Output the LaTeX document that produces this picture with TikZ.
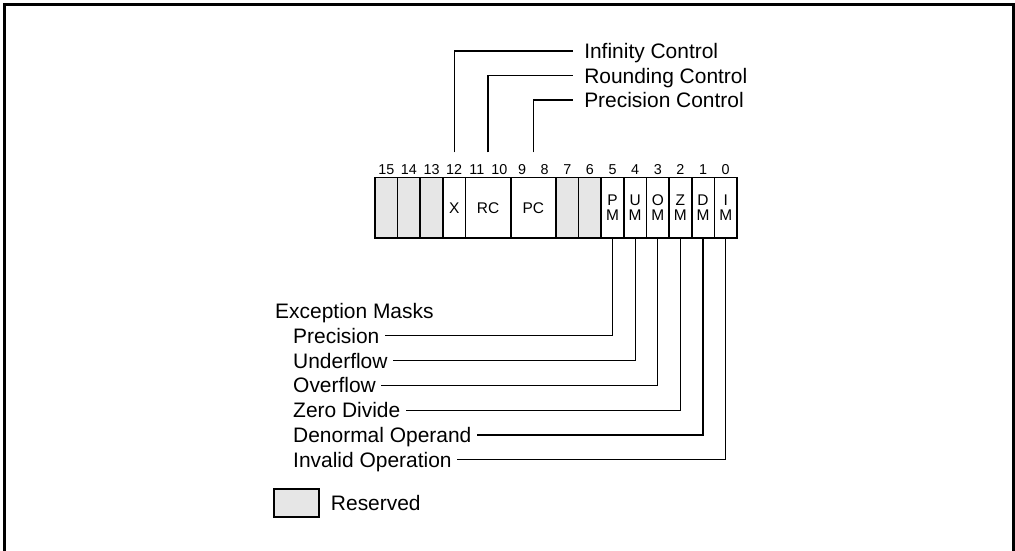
\documentclass[tikz,border=0pt]{standalone}
\usepackage{fontspec}
\setmainfont{Liberation Sans}
\usetikzlibrary{positioning}
\definecolor{rsvdgray}{HTML}{E6E6E6}

\tikzset{
  cell/.style={draw,line width=1.1pt,minimum width=0.5656cm,
    minimum height=1.515cm,inner sep=0pt,align=center,
    font=\fontsize{11}{10.5}\selectfont},
  twobit/.style={cell,minimum width=1.1313cm},
  resv/.style={cell,fill=rsvdgray},
  bitno/.style={inner sep=0pt,text height=7.3pt,text depth=0pt,
    font=\fontsize{10.2}{12}\selectfont},
  lbl/.style={anchor=west,inner xsep=3.5pt,inner ysep=0pt,
    text height=10.7pt,text depth=0pt,font=\fontsize{14.9}{18}\selectfont},
  ctl/.style={lbl,inner xsep=7.8pt},
  lead/.style={line width=0.9pt},
}

\begin{document}
\begin{tikzpicture}[x=0.025cm,y=-0.025cm]
  \useasboundingbox (0,0) rectangle (1015,551);
  \draw[line width=1.5pt] (4.5,560) -- (4.5,4.5) -- (1013.5,4.5) -- (1013.5,560);

  % register fields
  \foreach \i in {15,14,13,7,6}
    \node[resv] (r\i) at ({375+(15.5-\i)*22.625},207.8) {};
  \node[cell] (xf) at ({375+3.5*22.625},207.8) {X};
  \node[twobit] (rc) at ({375+5*22.625},207.8) {RC};
  \node[twobit] (pc) at ({375+7*22.625},207.8) {PC};
  \foreach \i/\t/\n in {5/P/pm,4/U/um,3/O/om,2/Z/zm,1/D/dm,0/I/im}
    \node[cell] (\n) at ({375+(15.5-\i)*22.625},207.8) {\t\\M};
  \foreach \i in {0,...,15}
    \node[bitno] (n\i) at ({375+(15.5-\i)*22.625},169.5) {\i};

  % control fields
  \node[ctl] (inf) at (573,51) {Infinity Control};
  \node[ctl] (rnd) at (573,75.5) {Rounding Control};
  \node[ctl] (prc) at (573,100) {Precision Control};
  \draw[lead] ([yshift=0.61cm]xf.north) |- (inf.west);
  \draw[lead] ([yshift=0.61cm]rc.north) |- (rnd.west);
  \draw[lead] ([yshift=0.61cm]pc.north) |- (prc.west);

  % exception masks
  \node[lbl] (exc) at (270,311) {Exception Masks};
  \foreach \n/\t [count=\k] in {pm/Precision,um/Underflow,om/Overflow,
      zm/Zero Divide,dm/Denormal Operand,im/Invalid Operation}{
    \node[lbl] (l\n) at (288,{311+24.8*\k}) {\t};
    \draw[lead] (\n.south) |- (l\n.east);
  }

  % legend
  \node[resv,minimum width=1.125cm,minimum height=0.7cm] (key) at (296.5,503) {};
  \node[lbl,right=0.15cm of key] (keylbl) {Reserved};
\end{tikzpicture}
\end{document}
